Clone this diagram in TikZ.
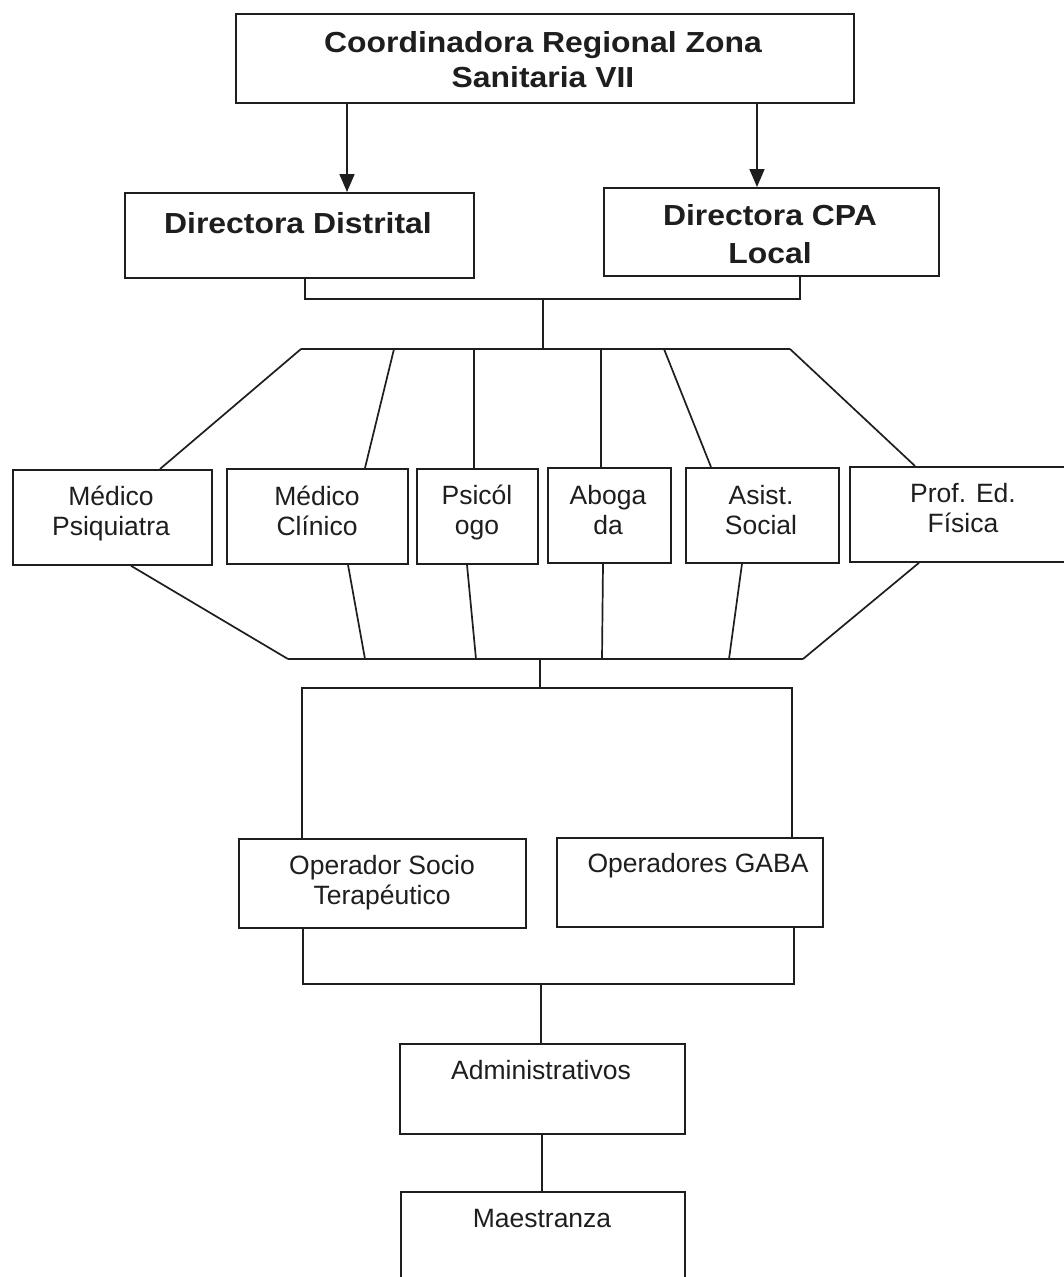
\documentclass[tikz,border=0pt]{standalone}
\usepackage{fontspec}
\setmainfont{Liberation Sans}
\newfontfamily\bfam[FakeStretch=1.10]{Liberation Sans}
\usetikzlibrary{arrows.meta}
\definecolor{ink}{HTML}{1E1E1E}
\begin{document}
\begin{tikzpicture}[x=1pt,y=-1pt,
  box/.style={draw=ink, line width=1.8pt, rectangle, inner sep=0pt, anchor=north west},
  ln/.style={draw=ink, line width=1.7pt},
  arr/.style={ln, -{Triangle[width=15pt,length=18pt]}},
  txt/.style={text=ink, align=center, inner sep=0pt, font=\fontsize{26.5}{30}\selectfont},
  btxt/.style={text=ink, align=center, inner sep=0pt, font=\bfam\bfseries\fontsize{29}{35}\selectfont},
]
\useasboundingbox (0,0) rectangle (1064,1277);
\fill[white] (0,0) rectangle (1064,1277);
\clip (0,0) rectangle (1064,1277);

% boxes
\node[box, minimum width=618pt, minimum height=89pt] (top) at (235,13) {};
\node[box, minimum width=349pt, minimum height=85pt] (dd) at (124,192) {};
\node[box, minimum width=335pt, minimum height=88pt] (cpa) at (603,187) {};
\node[box, minimum width=199pt, minimum height=95pt] (mp) at (12,469) {};
\node[box, minimum width=181pt, minimum height=95pt] (mc) at (226,468) {};
\node[box, minimum width=121pt, minimum height=95pt] (ps) at (416,468) {};
\node[box, minimum width=123pt, minimum height=95pt] (ab) at (547,467) {};
\node[box, minimum width=153pt, minimum height=95pt] (as) at (685,467) {};
\node[box, minimum width=228pt, minimum height=95pt] (pf) at (849,466) {};
\node[box, minimum width=287pt, minimum height=89pt] (os) at (238,838) {};
\node[box, minimum width=266pt, minimum height=89pt] (ga) at (556,837) {};
\node[box, minimum width=285pt, minimum height=90pt] (ad) at (399,1043) {};
\node[box, minimum width=284pt, minimum height=130pt] (ma) at (400,1191) {};

% texts
\node[btxt] (tTop) at (543,60) {Coordinadora Regional Zona\\Sanitaria VII};
\node[btxt] (tDD) at (298,223) {Directora Distrital};
\node[btxt, font=\bfam\bfseries\fontsize{29}{38}\selectfont] (tCPA) at (770,234) {Directora CPA\\Local};
\node[txt] (tMP) at (111,513.5) {Médico\\Psiquiatra};
\node[txt] (tMC) at (317,510.5) {Médico\\Clínico};
\node[txt] (tPS) at (477,512) {Psicól\\ogo};
\node[txt] (tAB) at (608,510) {Aboga\\da};
\node[txt] (tAS) at (761,510) {Asist.\\Social};
\node[txt] (tPF) at (963,508) {Prof. Ed.\\Física};
\node[txt] (tOS) at (382,883) {Operador Socio\\Terapéutico};
\node[txt] (tGA) at (698,866) {Operadores GABA};
\node[txt] (tAD) at (541,1070.5) {Administrativos};
\node[txt] (tMA) at (542,1218.5) {Maestranza};

% arrows from the top box
\draw[arr] (347,0 |- top.south) -- (347,0 |- dd.north);
\draw[arr] (757,0 |- top.south) -- (757,0 |- cpa.north);

% bracket under the two directors
\coordinate (b1) at (543,299);
\coordinate (f0) at (543,349);
\draw[ln] (305,0 |- dd.south) |- (800,0 |- b1) -- (800,0 |- cpa.south);
\draw[ln] (b1) -- (f0);

% upper fan
\coordinate (f1) at (301,349);
\coordinate (f2) at (394,349);
\coordinate (f3) at (474,349);
\coordinate (f4) at (601,349);
\coordinate (f5) at (664,349);
\coordinate (f6) at (790,349);
\draw[ln] (f1) -- (f6);
\draw[ln] (f1) -- (160,0 |- mp.north);
\draw[ln] (f2) -- (365,0 |- mc.north);
\draw[ln] (f3) -- (474,0 |- ps.north);
\draw[ln] (f4) -- (601,0 |- ab.north);
\draw[ln] (f5) -- (711,0 |- as.north);
\draw[ln] (f6) -- (915,0 |- pf.north);

% lower fan
\coordinate (g1) at (288,659);
\coordinate (g2) at (365,659);
\coordinate (g3) at (476,659);
\coordinate (g4) at (602,659);
\coordinate (g5) at (729,659);
\coordinate (g6) at (803,659);
\draw[ln] (g1) -- (g6);
\draw[ln] (131,0 |- mp.south) -- (g1);
\draw[ln] (348,0 |- mc.south) -- (g2);
\draw[ln] (467,0 |- ps.south) -- (g3);
\draw[ln] (603,0 |- ab.south) -- (g4);
\draw[ln] (742,0 |- as.south) -- (g5);
\draw[ln] (919,0 |- pf.south) -- (g6);

% bracket to the operators
\coordinate (g0) at (540,659);
\coordinate (h0) at (540,688);
\draw[ln] (g0) -- (h0);
\draw[ln] (302,0 |- os.north) |- (h0) -| (792,0 |- ga.north);

% bracket under the operators
\coordinate (k0) at (541,984);
\draw[ln] (303,0 |- os.south) |- (k0) -| (794,0 |- ga.south);
\draw[ln] (k0) -- (k0 |- ad.north);

% administrativos to maestranza
\coordinate (m0) at (542,1133);
\draw[ln] (m0 |- ad.south) -- (m0 |- ma.north);
\end{tikzpicture}
\end{document}
